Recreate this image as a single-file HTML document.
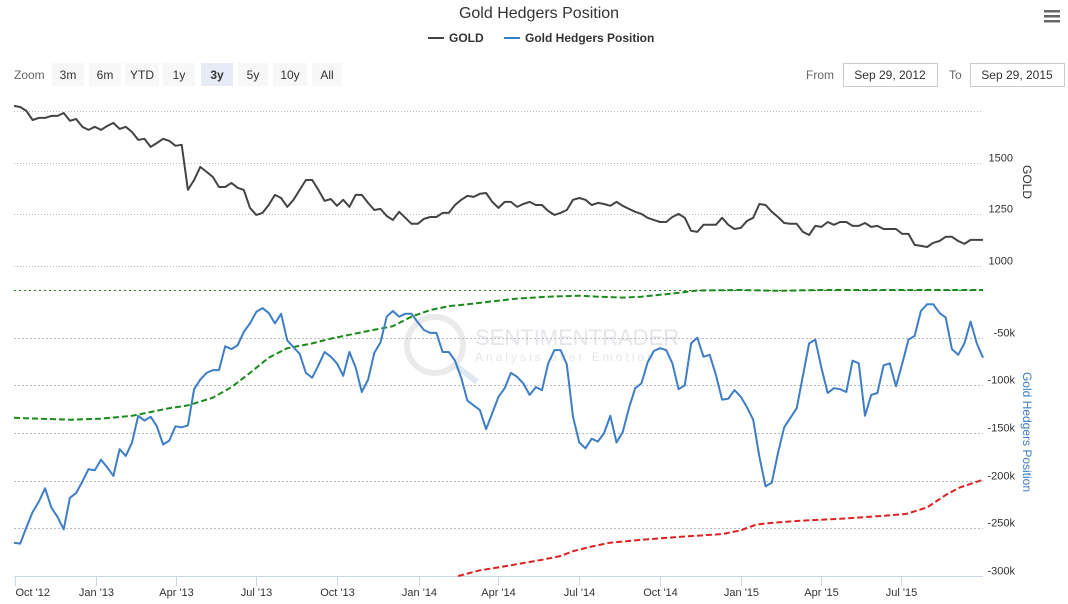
<!DOCTYPE html>
<html><head><meta charset="utf-8"><style>
body{margin:0;background:#fff;font-family:"Liberation Sans",sans-serif}
svg{display:block}
</style></head><body>
<svg id="c" width="1068" height="604" style="font-family:'Liberation Sans',sans-serif">
<text x="539" y="18" text-anchor="middle" font-size="16" fill="#333">Gold Hedgers Position</text>
<g><rect x="1044" y="10" width="16" height="2.5" fill="#666"/><rect x="1044" y="15" width="16" height="2.5" fill="#666"/><rect x="1044" y="20" width="16" height="2.5" fill="#666"/></g>
<g><rect x="428" y="37" width="16" height="2" fill="#444"/><text x="449" y="42" font-size="12" font-weight="bold" fill="#333">GOLD</text></g>
<g><rect x="504" y="37" width="16" height="2" fill="#3d7ec6"/><text x="525" y="42" font-size="12" font-weight="bold" fill="#333">Gold Hedgers Position</text></g>
<text x="14" y="79" font-size="12" fill="#666">Zoom</text>
<g id="btns"></g>
<text x="806" y="79" font-size="12" fill="#666">From</text>
<rect x="843.5" y="63.5" width="94" height="23" fill="#fff" stroke="#ccc"/>
<text x="890" y="79" font-size="12" fill="#333" text-anchor="middle">Sep 29, 2012</text>
<text x="949" y="79" font-size="12" fill="#666">To</text>
<rect x="970.5" y="63.5" width="94" height="23" fill="#fff" stroke="#ccc"/>
<text x="1017" y="79" font-size="12" fill="#333" text-anchor="middle">Sep 29, 2015</text>
<g id="grid"></g>
<text transform="translate(1023,182) rotate(90)" text-anchor="middle" font-size="12" fill="#333">GOLD</text>
<text transform="translate(1023,432) rotate(90)" text-anchor="middle" font-size="12" fill="#3d7ec6">Gold Hedgers Position</text>
<g opacity="0.3">
<circle cx="435" cy="345" r="28" fill="none" stroke="#bbb" stroke-width="6"/>
<line x1="455" y1="365" x2="477" y2="382" stroke="#9bb8d6" stroke-width="6"/>
<text x="475" y="345" font-size="22" fill="#aab">SENTIMENTRADER</text>
<text x="475" y="361" font-size="12" fill="#aab" letter-spacing="3">Analysis over Emotion</text>
</g>
<g id="plot"></g>
</svg>
<script>
const goldValues=[1774,1769,1750,1706,1716,1716,1726,1726,1740,1702,1711,1673,1658,1673,1658,1677,1692,1663,1673,1648,1610,1615,1576,1595,1615,1605,1581,1586,1368,1416,1479,1455,1431,1382,1382,1402,1378,1368,1281,1247,1257,1295,1344,1329,1286,1320,1368,1416,1416,1368,1315,1324,1291,1320,1286,1344,1344,1305,1271,1276,1242,1223,1262,1233,1204,1204,1228,1237,1237,1257,1257,1295,1320,1339,1334,1349,1353,1310,1281,
1310,1310,1286,1300,1310,1295,1295,1266,1247,1257,1271,1320,1329,1320,1295,1305,1300,1291,1310,1291,1276,1262,1252,1233,1223,1213,1213,1237,1252,1233,1170,1165,1199,1199,1199,1233,1199,1179,1184,1218,1233,1300,1295,1262,1237,1208,1204,1204,1165,1150,1194,1189,1213,1199,1213,1213,1194,1194,1208,1189,1194,1179,1179,1179,1155,1155,1102,1097,1092,1112,1121,1141,1141,1121,1107,1126,1126,1126];
const hedgerValues=[-265,-266,-249,-233,-222,-208,-228,-238,-251,-218,-213,-201,-188,-189,-178,-186,-195,-167,-174,-160,-132,-137,-133,-143,-162,-158,-143,-144,-142,-104,-94,-87,-84,-84,-59,-62,-58,-44,-35,-23,-19,-24,-35,-25,-53,-60,-67,-87,-92,-79,-65,-70,-77,-90,-65,-81,-107,-94,-66,-55,-28,-22,-28,-25,-25,-34,-42,-45,-45,-65,-65,-74,-92,-116,-121,-126,-146,-129,-112,
-103,-87,-91,-98,-110,-102,-105,-77,-63,-63,-78,-133,-160,-166,-156,-159,-150,-132,-160,-149,-124,-103,-98,-76,-64,-61,-63,-77,-104,-100,-56,-50,-70,-68,-89,-115,-114,-105,-112,-123,-136,-175,-206,-202,-171,-144,-134,-124,-90,-56,-52,-82,-108,-103,-104,-107,-74,-77,-132,-110,-108,-79,-77,-101,-77,-52,-48,-22,-15,-15,-24,-29,-62,-68,-56,-33,-56,-71];
const greenWeeks=[0,4,9,14,19,22,25,28,32,35,38,41,44,48,51,54,57,61,64,67,70,73,77,81,86,91,94,98,101,104,107,110,117,123,130,156];
const greenValues=[-134,-135,-136,-135,-132,-128,-124,-121,-113,-102,-87,-71,-61,-56,-51,-47,-43,-38,-28,-21,-17,-15,-12,-9,-7,-6,-7,-8,-7,-5,-3,-0.5,0,-0.8,0,0];
const redWeeks=[71.5,75,78,81.5,85,88,90,93,96,101,107,114,117,119.5,122.5,126.7,133,139.5,143.6,147,150,152.3,156];
const redValues=[-300,-294,-291,-287,-283,-279,-274,-269,-265,-262,-259,-256,-252,-246,-244,-242,-240,-237,-235,-228,-215,-207,-199];
const goldTicks=[1000,1250,1500,1750];
const hedgerTicks=[0,-50,-100,-150,-200,-250,-300];
const xLabels=["Oct '12","Jan '13","Apr '13","Jul '13","Oct '13","Jan '14","Apr '14","Jul '14","Oct '14","Jan '15","Apr '15","Jul '15"];
const xLabelDays=[2,94,184,275,367,459,549,640,732,824,914,1005];
const zoomButtons=["3m","6m","YTD","1y","3y","5y","10y","All"];

const NS="http://www.w3.org/2000/svg";
const X0=14,X1=983,nWeeks=156;
const xw=w=>X0+w*(X1-X0)/nWeeks;
const xd=d=>13+d*0.8836;
const yGold=v=>266-(v-1000)*51.7/250;
const yHedge=v=>290-v*(47.67/50);
function mk(tag,attrs,parent){const e=document.createElementNS(NS,tag);for(const k in attrs)e.setAttribute(k,attrs[k]);parent.appendChild(e);return e;}
const grid=document.getElementById('grid'),plot=document.getElementById('plot'),btns=document.getElementById('btns');

const bx=[52,89,125,163,201,238,273,312],bw=[32,32,34,32,32,30,34,30];
zoomButtons.forEach((b,i)=>{
  const g=mk('g',{},btns);
  
  
  mk('rect',{x:bx[i],y:63,width:bw[i],height:23,fill:b==='3y'?'#e6ebf5':'#f7f7f7'},g);
  const t=mk('text',{x:bx[i]+bw[i]/2,y:79,'text-anchor':'middle','font-size':12,fill:'#333','font-weight':b==='3y'?'bold':'normal'},g);
  t.textContent=b;
});

goldTicks.forEach(v=>{
  const y=Math.round(yGold(v))+0.5;
  const l=mk('line',{x1:X0,x2:X1,y1:y,y2:y,stroke:'#bbb','stroke-dasharray':'1,2'},grid);
  
  
  if(v<1750){const t=mk('text',{x:1013,y:y-2,'text-anchor':'end','font-size':11,fill:'#333'},grid);
  
  
  t.textContent=v;}
});
hedgerTicks.forEach(v=>{
  const y=Math.round(yHedge(v))+0.5;
  const l=mk('line',{x1:X0,x2:X1,y1:y,y2:y,stroke:v===0?'#2a7a2a':'#bbb','stroke-dasharray':v===0?'2,3':'2,2'},grid);
  
  
  if(v<0){const t=mk('text',{x:1015,y:y-2,'text-anchor':'end','font-size':11,fill:'#333'},grid);
  
  
  t.textContent=v+'k';}
});
mk('line',{x1:X0,x2:X1,y1:576.5,y2:576.5,stroke:'#ccd6eb'},grid);
xLabels.forEach((s,i)=>{
  const x=Math.round(xd(xLabelDays[i]))+0.5;
  mk('line',{x1:x,x2:x,y1:576,y2:586,stroke:'#ccd6eb'},grid);
  const t=mk('text',{x:x,y:596,'text-anchor':x<20?'start':'middle','font-size':11,fill:'#333'},grid);
  
  
  t.textContent=s;
});
function path(pts,attrs,name){
  const p=mk('path',Object.assign({d:'M'+pts.map(q=>q[0].toFixed(1)+','+q[1].toFixed(1)).join('L'),fill:'none'},attrs),plot);
  
  
}
path(greenWeeks.map((w,i)=>[xw(w),Math.max(yHedge(greenValues[i]),289)]),{stroke:'#1a8a1a','stroke-width':2,'stroke-dasharray':'6,3'},'hedgers-upper-band');
path(redWeeks.map((w,i)=>[xw(w),yHedge(redValues[i])]),{stroke:'#e02020','stroke-width':2,'stroke-dasharray':'6,3'},'hedgers-lower-band');
path(goldValues.map((v,i)=>[xw(i*nWeeks/(goldValues.length-1)),yGold(v)]),{stroke:'#444','stroke-width':2,'stroke-linejoin':'round'},'gold-line');
path(hedgerValues.map((v,i)=>[xw(i*nWeeks/(hedgerValues.length-1)),yHedge(v)]),{stroke:'#3d7ec6','stroke-width':2,'stroke-linejoin':'round'},'hedgers-line');
</script>
</body></html>
